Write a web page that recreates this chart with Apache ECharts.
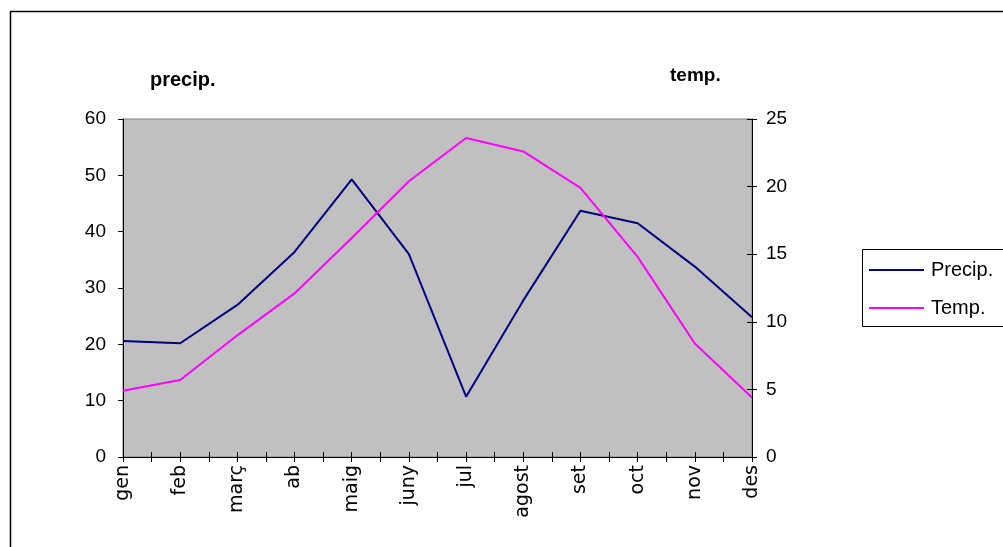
<!DOCTYPE html>
<html>
<head>
<meta charset="utf-8">
<script src="https://cdn.jsdelivr.net/npm/echarts@6/dist/echarts.min.js"></script>
<style>html,body{margin:0;padding:0;background:#fff}#c{width:1003px;height:547px}</style>
</head>
<body>
<div id="c"></div>
<script>
var months = ['gen','feb','març','ab','maig','juny','jul','agost','set','oct','nov','des'];
var precip = [20.6, 20.2, 27.0, 36.4, 49.3, 36.0, 10.7, 27.8, 43.7, 41.5, 33.8, 24.8];
var temp = [4.9, 5.7, 9.0, 12.1, 16.2, 20.4, 23.6, 22.6, 19.9, 14.8, 8.4, 4.4];
var precipTicks = [0, 60, 10];
var tempTicks = [0, 25, 5];

var FONT = 'Liberation Sans, Arial, sans-serif';
var chart = echarts.init(document.getElementById('c'));
function pairs(arr){ return arr.map(function(v,i){ return [i, v]; }); }
var gridPos = { left: 123, right: 251, top: 119, bottom: 90 };
chart.setOption({
  animation: false,
  backgroundColor: '#fff',
  textStyle: { fontFamily: FONT },
  grid: [
    Object.assign({ show: true, backgroundColor: '#C0C0C0', borderColor: '#808080', borderWidth: 1 }, gridPos),
    Object.assign({ show: false }, gridPos)
  ],
  legend: {
    orient: 'vertical', left: 869, top: 260, padding: 0, itemWidth: 55, itemHeight: 2, itemGap: 18,
    textStyle: { fontFamily: FONT, fontSize: 20, lineHeight: 18, color: '#000', padding: [0, 0, 0, 2] },
    data: [{ name: 'Precip.', icon: 'rect' }, { name: 'Temp.', icon: 'rect' }]
  },
  graphic: [
    { type: 'rect', shape: { x: 10.5, y: 11.5, width: 1100, height: 600 }, style: { fill: 'none', stroke: '#000', lineWidth: 1.5 }, z: -1, silent: true },
    { type: 'rect', shape: { x: 862.5, y: 249.5, width: 200, height: 77 }, style: { fill: '#fff', stroke: '#000', lineWidth: 1 }, z: -1, silent: true },
    { type: 'text', left: 150, top: 70, style: { text: 'precip.', font: 'bold 20px ' + FONT, fill: '#000' } },
    { type: 'text', left: 670, top: 66, style: { text: 'temp.', font: 'bold 19px ' + FONT, fill: '#000' } }
  ],
  xAxis: [
    {
      type: 'value', gridIndex: 0, min: 0, max: months.length - 1, interval: 1, position: 'bottom',
      axisLine: { show: true, onZero: false, lineStyle: { color: '#000', width: 1 } },
      axisTick: { show: true, length: 5, lineStyle: { color: '#000' } },
      minorTick: { show: true, splitNumber: 2, length: 5, lineStyle: { color: '#000' } },
      splitLine: { show: false },
      axisLabel: { rotate: 90, fontSize: 19, color: '#000', margin: 8, fontFamily: 'DejaVu Sans, sans-serif',
        formatter: function(v){ return months[v] || ''; } }
    },
    {
      type: 'value', gridIndex: 1, min: 0, max: months.length - 1, interval: 1, position: 'bottom',
      axisLine: { show: false, onZero: false },
      axisTick: { show: true, inside: true, length: 5, lineStyle: { color: '#000' } },
      minorTick: { show: true, splitNumber: 2, length: 5, lineStyle: { color: '#000' } },
      splitLine: { show: false }, axisLabel: { show: false }
    }
  ],
  yAxis: [
    {
      type: 'value', gridIndex: 0, min: precipTicks[0], max: precipTicks[1], interval: precipTicks[2], position: 'left',
      axisLine: { show: true, onZero: false, lineStyle: { color: '#000' } },
      axisTick: { show: true, length: 5, lineStyle: { color: '#000' } },
      splitLine: { show: false },
      axisLabel: { fontSize: 19, color: '#000', margin: 17, fontFamily: FONT }
    },
    {
      type: 'value', gridIndex: 0, min: tempTicks[0], max: tempTicks[1], interval: tempTicks[2], position: 'right',
      axisLine: { show: true, onZero: false, lineStyle: { color: '#000' } },
      axisTick: { show: true, length: 5, lineStyle: { color: '#000' } },
      splitLine: { show: false },
      axisLabel: { fontSize: 19, color: '#000', margin: 14, fontFamily: FONT }
    },
    {
      type: 'value', gridIndex: 1, min: tempTicks[0], max: tempTicks[1], interval: tempTicks[2], position: 'right',
      axisLine: { show: false, onZero: false },
      axisTick: { show: true, inside: true, length: 5, lineStyle: { color: '#000' } },
      splitLine: { show: false }, axisLabel: { show: false }
    }
  ],
  series: [
    { name: 'Precip.', type: 'line', xAxisIndex: 0, yAxisIndex: 0, data: pairs(precip), symbol: 'none',
      lineStyle: { color: '#000080', width: 2 }, itemStyle: { color: '#000080' } },
    { name: 'Temp.', type: 'line', xAxisIndex: 0, yAxisIndex: 1, data: pairs(temp), symbol: 'none',
      lineStyle: { color: '#FF00FF', width: 2 }, itemStyle: { color: '#FF00FF' } }
  ]
});
</script>
</body>
</html>
